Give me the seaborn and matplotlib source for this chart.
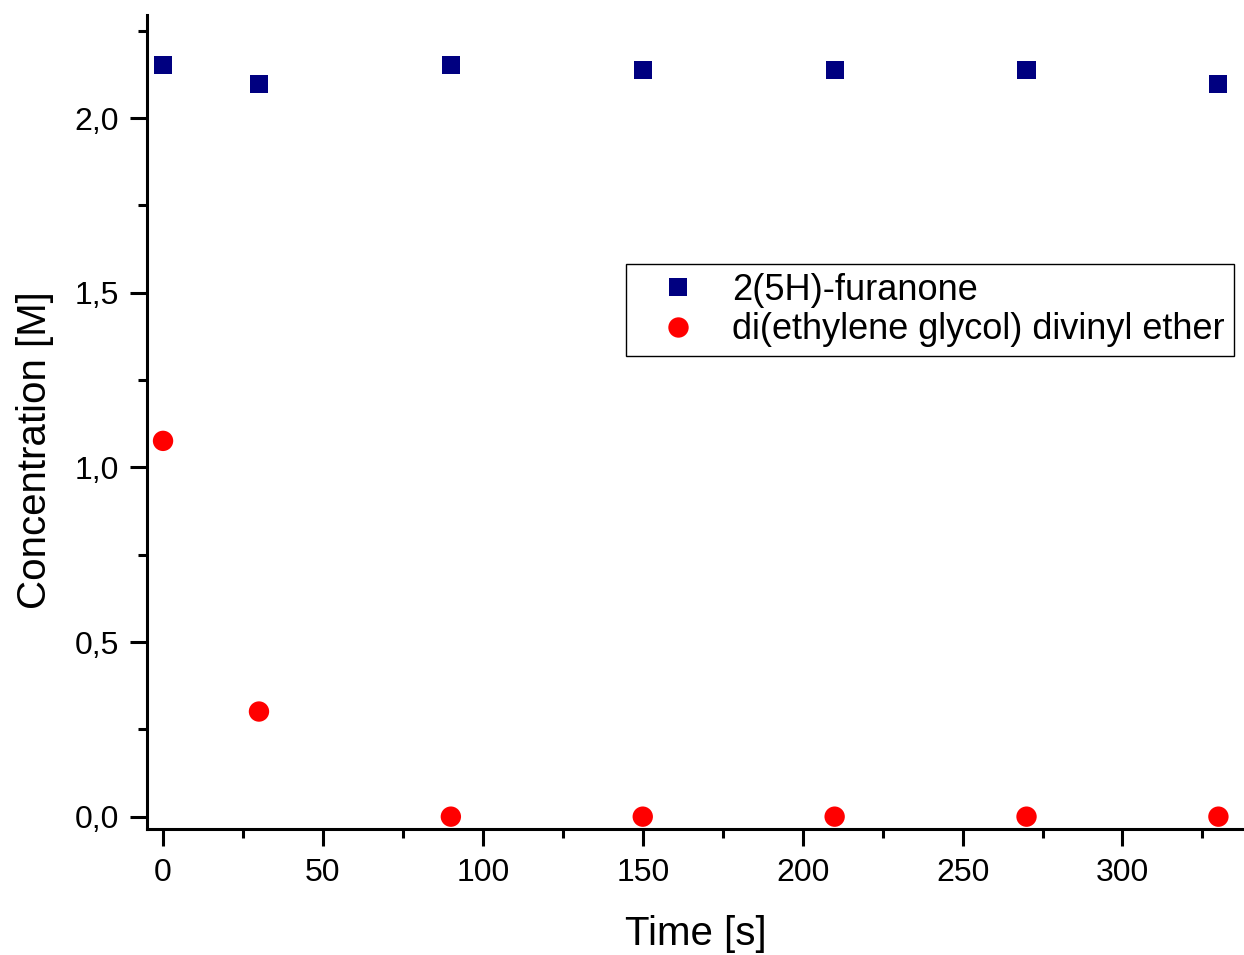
import pandas as pd
import matplotlib
matplotlib.use('Agg')
import matplotlib.pyplot as plt
import seaborn as sns
from matplotlib.ticker import MultipleLocator

time_s = [0, 30, 90, 150, 210, 270, 330]
furanone = [2.152, 2.099, 2.152, 2.139, 2.139, 2.139, 2.099]
divinyl_ether = [1.076, 0.301, 0.0, 0.0, 0.0, 0.0, 0.0]
names = ['2(5H)-furanone', 'di(ethylene glycol) divinyl ether']

df = pd.DataFrame({
    'time': time_s * 2,
    'conc': furanone + divinyl_ether,
    'compound': [names[0]] * len(time_s) + [names[1]] * len(time_s),
})

sns.set_style('ticks')
plt.rcParams['font.family'] = ['Liberation Sans', 'DejaVu Sans']
plt.rcParams['text.color'] = 'black'
plt.rcParams['axes.labelcolor'] = 'black'
plt.rcParams['xtick.color'] = 'black'
plt.rcParams['ytick.color'] = 'black'

fig = plt.figure(figsize=(12.44, 9.55), dpi=100)
ax = fig.add_axes([0.1182, 0.1317, 0.8818, 0.8528])

sns.scatterplot(data=df, x='time', y='conc', hue='compound', style='compound',
                size='compound',
                palette={names[0]: '#000080', names[1]: '#ff0000'},
                markers={names[0]: 's', names[1]: 'o'},
                sizes={names[0]: 169, names[1]: 215},
                linewidth=0, ax=ax)

ax.set_xlim(-5, 338)
ax.set_ylim(-0.036, 2.296)
ax.xaxis.set_major_locator(MultipleLocator(50))
ax.xaxis.set_minor_locator(MultipleLocator(25))
ax.yaxis.set_major_locator(MultipleLocator(0.5))
ax.yaxis.set_minor_locator(MultipleLocator(0.25))
ax.yaxis.set_major_formatter(plt.FuncFormatter(lambda v, p: f'{v:.1f}'.replace('.', ',')))

for side in ['top', 'right']:
    ax.spines[side].set_visible(False)
for side in ['left', 'bottom']:
    ax.spines[side].set_linewidth(2.2)
    ax.spines[side].set_color('black')

ax.tick_params(which='major', direction='out', length=12, width=2.2, labelsize=23)
ax.tick_params(which='minor', direction='out', length=6.5, width=2.2)
ax.tick_params(axis='x', which='major', pad=8.5)
ax.tick_params(axis='y', which='major', pad=8)

ax.set_xlabel('Time [s]', fontsize=29, labelpad=20)
ax.set_ylabel('Concentration [M]', fontsize=29, labelpad=15)
ax.yaxis.label.set_y(0.466)

leg = ax.legend(loc='upper right', bbox_to_anchor=(0.991, 0.694), borderaxespad=0,
                fontsize=26, frameon=True, fancybox=False, edgecolor='black',
                markerscale=1.0, handletextpad=0.3, borderpad=0.25, labelspacing=0.12,
                handlelength=2.4)
leg.get_frame().set_linewidth(1.0)
leg.get_frame().set_alpha(1)

fig.savefig('out.png', dpi=100)
